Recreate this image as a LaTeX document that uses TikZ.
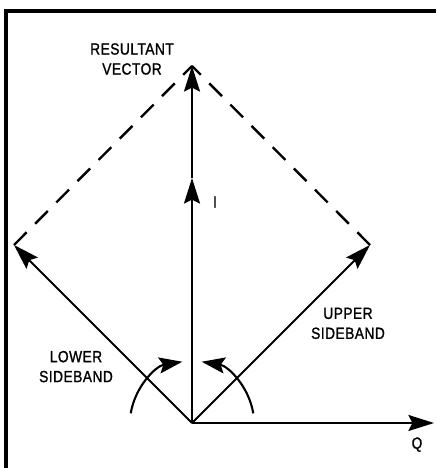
\documentclass[tikz,border=0pt]{standalone}
\usepackage{fontspec}
\newfontfamily\tagfont[FakeStretch=0.85, LetterSpace=3, FakeBold=1.2]{Liberation Sans}
\usetikzlibrary{positioning, arrows.meta, calc}

\begin{document}
\begin{tikzpicture}[
  vec/.style={line width=1.5pt, -{Stealth[length=0.64cm, width=0.4cm, inset=0.1cm]}},
  sweep/.style={line width=1.5pt, -{Stealth[length=0.58cm, width=0.4cm, inset=0.1cm]}},
  sum/.style={line width=1.7pt, dash pattern=on 0.45cm off 0.3cm},
  frame/.style={line width=2.2pt},
  lbl/.style={font=\tagfont\fontsize{11.5}{14.2}\selectfont, align=center, inner sep=0pt},
]
  \useasboundingbox (-4.8, -1.125) rectangle (6.1, 10.575);

  % border (top and left only)
  \draw[frame] (-4.65, -1.125) |- (6.1, 10.3);

  % points
  \coordinate (o) at (0, 0);
  \coordinate (res) at (0, 8.925);
  \coordinate (mid) at (0, 6.125);
  \coordinate (lsb) at (-4.45, 4.45);
  \coordinate (usb) at (4.45, 4.45);
  \coordinate (qend) at (6.05, 0);

  % vectors
  \draw[vec] (o) -- (qend);
  \draw[vec] (o) -- (mid);
  \draw[vec] (mid) -- (res);
  \draw[vec] (o) -- (lsb);
  \draw[vec] (o) -- (usb);

  % parallelogram sides
  \draw[sum] (lsb) -- (res);
  \draw[sum] (usb) -- (res);

  % rotation arrows
  \draw[sweep] ([shift={(171:1.55)}]o) arc[start angle=171, end angle=99, radius=1.55];
  \draw[sweep] ([shift={(9:1.55)}]o) arc[start angle=9, end angle=81, radius=1.55];

  % labels
  \node[lbl] (resl) at (-1.5, 9.1) {RESULTANT\\VECTOR};
  \node[lbl] (lowl) at (-2.9, 1.41) {LOWER\\SIDEBAND};
  \node[lbl] (uppl) at (3.9, 2.49) {UPPER\\SIDEBAND};
  \node[lbl] (il) at (0.575, 5.525) {I};
  \node[lbl] (ql) at (5.625, -0.54) {Q};
\end{tikzpicture}
\end{document}
